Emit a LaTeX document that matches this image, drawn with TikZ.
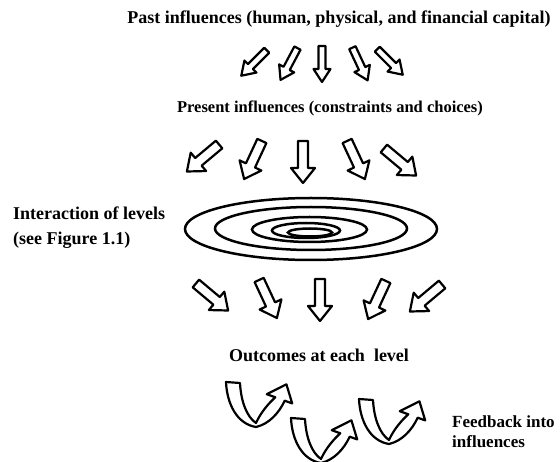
\documentclass[tikz,border=0pt]{standalone}
\usepackage{fontspec}
\setmainfont{Liberation Serif}
\newcommand{\blk}[7]{%
  \draw[blockarrow,shift={(#1,#2)},rotate=#3]
    (-#4/2,-#5) -- (#4/2-#7,-#5) -- (#4/2-#7,-#6) -- (#4/2,0)
    -- (#4/2-#7,#6) -- (#4/2-#7,#5) -- (-#4/2,#5) -- cycle;}
\newcommand{\rowone}[3]{\blk{#1}{#2}{#3}{36}{3.5}{8.5}{13}}
\newcommand{\rowtwo}[3]{\blk{#1}{#2}{#3}{42}{5}{12}{15}}
\newcommand{\uarrow}[2]{%
  \draw[blockarrow,shift={(#1,#2)}]
    (1,2) -- (15,3) .. controls (16,22) and (22,37) .. (31,43)
    .. controls (36,32) and (44,23) .. (50.3,17.3) -- (41.8,14.2) -- (61.4,4.3)
    -- (67.2,23.4) -- (59.7,20.7) .. controls (54,33) and (44,44) .. (31,47)
    .. controls (12,44) and (2,24) .. (1,2) -- cycle;}
\begin{document}
\begin{tikzpicture}[x=1pt,y=-1pt,
  blockarrow/.style={draw=black,fill=white,line width=2.2pt,line join=round},
  ring/.style={draw=black,line width=2.5pt},
  lbl/.style={font=\fontsize{18}{21}\selectfont\bfseries,inner sep=0pt}]
\fill[white] (0,0) rectangle (560,462);
\useasboundingbox (0,0) rectangle (560,462);
% texts
\node[lbl] (past) at (339,19) {Past influences (human, physical, and financial capital)};
\node[lbl,font=\fontsize{16.5}{20}\selectfont\bfseries] (present) at (330,108) {Present influences (constraints and choices)};
\node[lbl,anchor=north west,align=left,font=\fontsize{18}{25}\selectfont\bfseries] (inter) at (13,207) {Interaction of levels\\(see Figure 1.1)};
\node[lbl] (outcomes) at (319,355) {Outcomes at each\ \ level};
\node[lbl,anchor=north west,align=left,font=\fontsize{17}{20}\selectfont\bfseries] (feedback) at (452,416) {Feedback into\\influences};
% row 1 arrows
\rowone{254}{63}{-135}
\rowone{289}{64}{-118}
\rowone{322}{64}{-90}
\rowone{360}{64}{-65}
\rowone{390}{62}{-45}
% row 2 arrows
\rowtwo{203}{158}{-140}
\rowtwo{253}{160}{-115}
\rowtwo{303}{162}{-90}
\rowtwo{356}{160}{-65}
\rowtwo{400}{162}{-40}
% ellipses
\draw[ring] (311,229) ellipse [x radius=126,y radius=31];
\draw[ring] (311,228.5) ellipse [x radius=96,y radius=21.5];
\draw[ring] (309.5,229.5) ellipse [x radius=57.5,y radius=12.5];
\draw[ring] (306,230.5) ellipse [x radius=34,y radius=7.5];
\draw[ring] (310,232.5) ellipse [x radius=22,y radius=4];
% row 3 arrows
\rowtwo{212}{297}{-40}
\rowtwo{268}{299}{-65}
\rowtwo{320}{300}{-90}
\rowtwo{377}{300}{-115}
\rowtwo{426}{298}{-140}
% feedback U arrows
\uarrow{225}{380}
\uarrow{290}{416}
\uarrow{358}{397}
\end{tikzpicture}
\end{document}
